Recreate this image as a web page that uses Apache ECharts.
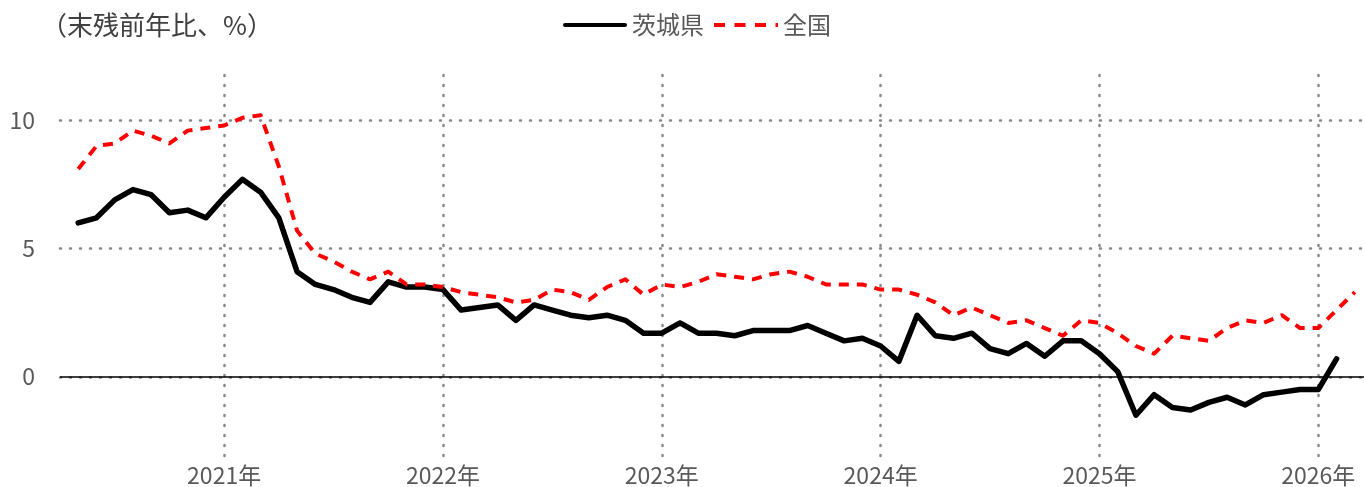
<!DOCTYPE html>
<html>
<head>
<meta charset="utf-8">
<script src="https://cdn.jsdelivr.net/npm/echarts@6/dist/echarts.min.js"></script>
<style>
  html, body { margin: 0; padding: 0; background: #fff; }
  #main { width: 1364px; height: 487px; }
</style>
</head>
<body>
<div id="main"></div>
<script>
// 月次カテゴリ（前後に空の月を1つずつ置いて余白をとる）
var months = [
    '2020-04', '2020-05', '2020-06', '2020-07', '2020-08', '2020-09', '2020-10', '2020-11', '2020-12',
    '2021-01', '2021-02', '2021-03', '2021-04', '2021-05', '2021-06', '2021-07', '2021-08', '2021-09', '2021-10', '2021-11', '2021-12',
    '2022-01', '2022-02', '2022-03', '2022-04', '2022-05', '2022-06', '2022-07', '2022-08', '2022-09', '2022-10', '2022-11', '2022-12',
    '2023-01', '2023-02', '2023-03', '2023-04', '2023-05', '2023-06', '2023-07', '2023-08', '2023-09', '2023-10', '2023-11', '2023-12',
    '2024-01', '2024-02', '2024-03', '2024-04', '2024-05', '2024-06', '2024-07', '2024-08', '2024-09', '2024-10', '2024-11', '2024-12',
    '2025-01', '2025-02', '2025-03', '2025-04', '2025-05', '2025-06', '2025-07', '2025-08', '2025-09', '2025-10', '2025-11', '2025-12',
    '2026-01', '2026-02', '2026-03', '2026-04'
];

// 茨城県 貸出金末残前年比（%）
var ibaraki = [
    null, 6.0, 6.2, 6.9, 7.3, 7.1, 6.4, 6.5, 6.2,
    7.0, 7.7, 7.2, 6.2, 4.1, 3.6, 3.4, 3.1, 2.9, 3.7, 3.5, 3.5,
    3.4, 2.6, 2.7, 2.8, 2.2, 2.8, 2.6, 2.4, 2.3, 2.4, 2.2, 1.7,
    1.7, 2.1, 1.7, 1.7, 1.6, 1.8, 1.8, 1.8, 2.0, 1.7, 1.4, 1.5,
    1.2, 0.6, 2.4, 1.6, 1.5, 1.7, 1.1, 0.9, 1.3, 0.8, 1.4, 1.4,
    0.9, 0.2, -1.5, -0.7, -1.2, -1.3, -1.0, -0.8, -1.1, -0.7, -0.6, -0.5,
    -0.5, 0.7, null, null
];

// 全国
var national = [
    null, 8.1, 9.0, 9.1, 9.6, 9.4, 9.1, 9.6, 9.7,
    9.8, 10.1, 10.2, 8.2, 5.7, 4.8, 4.5, 4.1, 3.8, 4.1, 3.6, 3.6,
    3.5, 3.3, 3.2, 3.1, 2.9, 3.0, 3.4, 3.3, 3.0, 3.5, 3.8, 3.2,
    3.6, 3.5, 3.7, 4.0, 3.9, 3.8, 4.0, 4.1, 3.9, 3.6, 3.6, 3.6,
    3.4, 3.4, 3.2, 2.9, 2.4, 2.7, 2.4, 2.1, 2.2, 1.9, 1.6, 2.2,
    2.1, 1.7, 1.2, 0.9, 1.6, 1.5, 1.4, 1.9, 2.2, 2.1, 2.4, 1.9,
    1.9, 2.6, 3.3, null
];

var yTicks = [0, 5, 10];

var fontJP = 'Noto Sans CJK JP';
var dotted = { color: '#888', width: 2.5, type: [1, 9], cap: 'round' };

// 凡例のアイコン（実線と破線）
var iconSolid = 'path://M2,0h60a2,2 0 0 1 0,4h-60a2,2 0 0 1 0,-4z';
var iconDashed = 'path://M0,0h11v4h-11z M20.5,0h11v4h-11z M41,0h11v4h-11z M61.5,0h2.5v4h-2.5z';

// 1月だけに目盛り・縦線を出す
function isJanuary(index, value) {
    return /-01$/.test(value);
}

var chart = echarts.init(document.getElementById('main'));
var option = {
    animation: false,
    backgroundColor: '#fff',
    textStyle: { fontFamily: fontJP },
    title: {
        text: '（末残前年比、%）',
        left: 36,
        top: 7,
        textStyle: { fontFamily: fontJP, fontSize: 26, fontWeight: 'normal', color: '#404040' }
    },
    legend: {
        data: [
            { name: '茨城県', icon: iconSolid },
            { name: '全国', icon: iconDashed }
        ],
        left: 558,
        top: 8,
        itemWidth: 64,
        itemHeight: 4,
        itemGap: 10,
        itemStyle: { borderWidth: 0 },
        textStyle: { fontFamily: fontJP, fontSize: 24, color: '#595959', padding: [0, 0, 0, 0] }
    },
    grid: {
        left: 60,
        right: -9,
        top: 75,
        bottom: 30,
        containLabel: false,
        outerBoundsMode: 'none'
    },
    xAxis: {
        type: 'category',
        data: months,
        boundaryGap: false,
        axisLine: { show: false },
        axisTick: { show: false },
        axisLabel: {
            interval: isJanuary,
            margin: 7,
            fontFamily: fontJP,
            fontSize: 23,
            color: '#595959',
            formatter: function (v) { return v.slice(0, 4) + '年'; }
        },
        splitLine: { show: true, interval: isJanuary, lineStyle: dotted }
    },
    yAxis: {
        type: 'value',
        min: -3.13,
        max: 11.77,
        splitNumber: 3,
        axisLine: { show: false },
        axisTick: { show: false },
        axisLabel: {
            margin: 25,
            fontFamily: fontJP,
            fontSize: 23,
            color: '#595959',
            showMinLabel: false,
            showMaxLabel: false,
            formatter: function (v) { return yTicks.indexOf(v) >= 0 ? String(v) : ''; }
        },
        splitLine: { show: true, showMinLine: false, showMaxLine: false, lineStyle: dotted }
    },
    series: [
        {
            name: '茨城県',
            type: 'line',
            data: ibaraki,
            symbol: 'none',
            color: '#000',
            lineStyle: { color: '#000', width: 5.5, cap: 'round', join: 'round' },
            markLine: {
                silent: true,
                symbol: 'none',
                label: { show: false },
                lineStyle: { color: '#000', width: 1.5, type: 'solid' },
                data: [{ yAxis: 0 }]
            }
        },
        {
            name: '全国',
            type: 'line',
            data: national,
            symbol: 'none',
            color: '#ff0000',
            lineStyle: { color: '#ff0000', width: 4, type: [10, 8], join: 'round' }
        }
    ]
};
chart.setOption(option);
</script>
</body>
</html>
